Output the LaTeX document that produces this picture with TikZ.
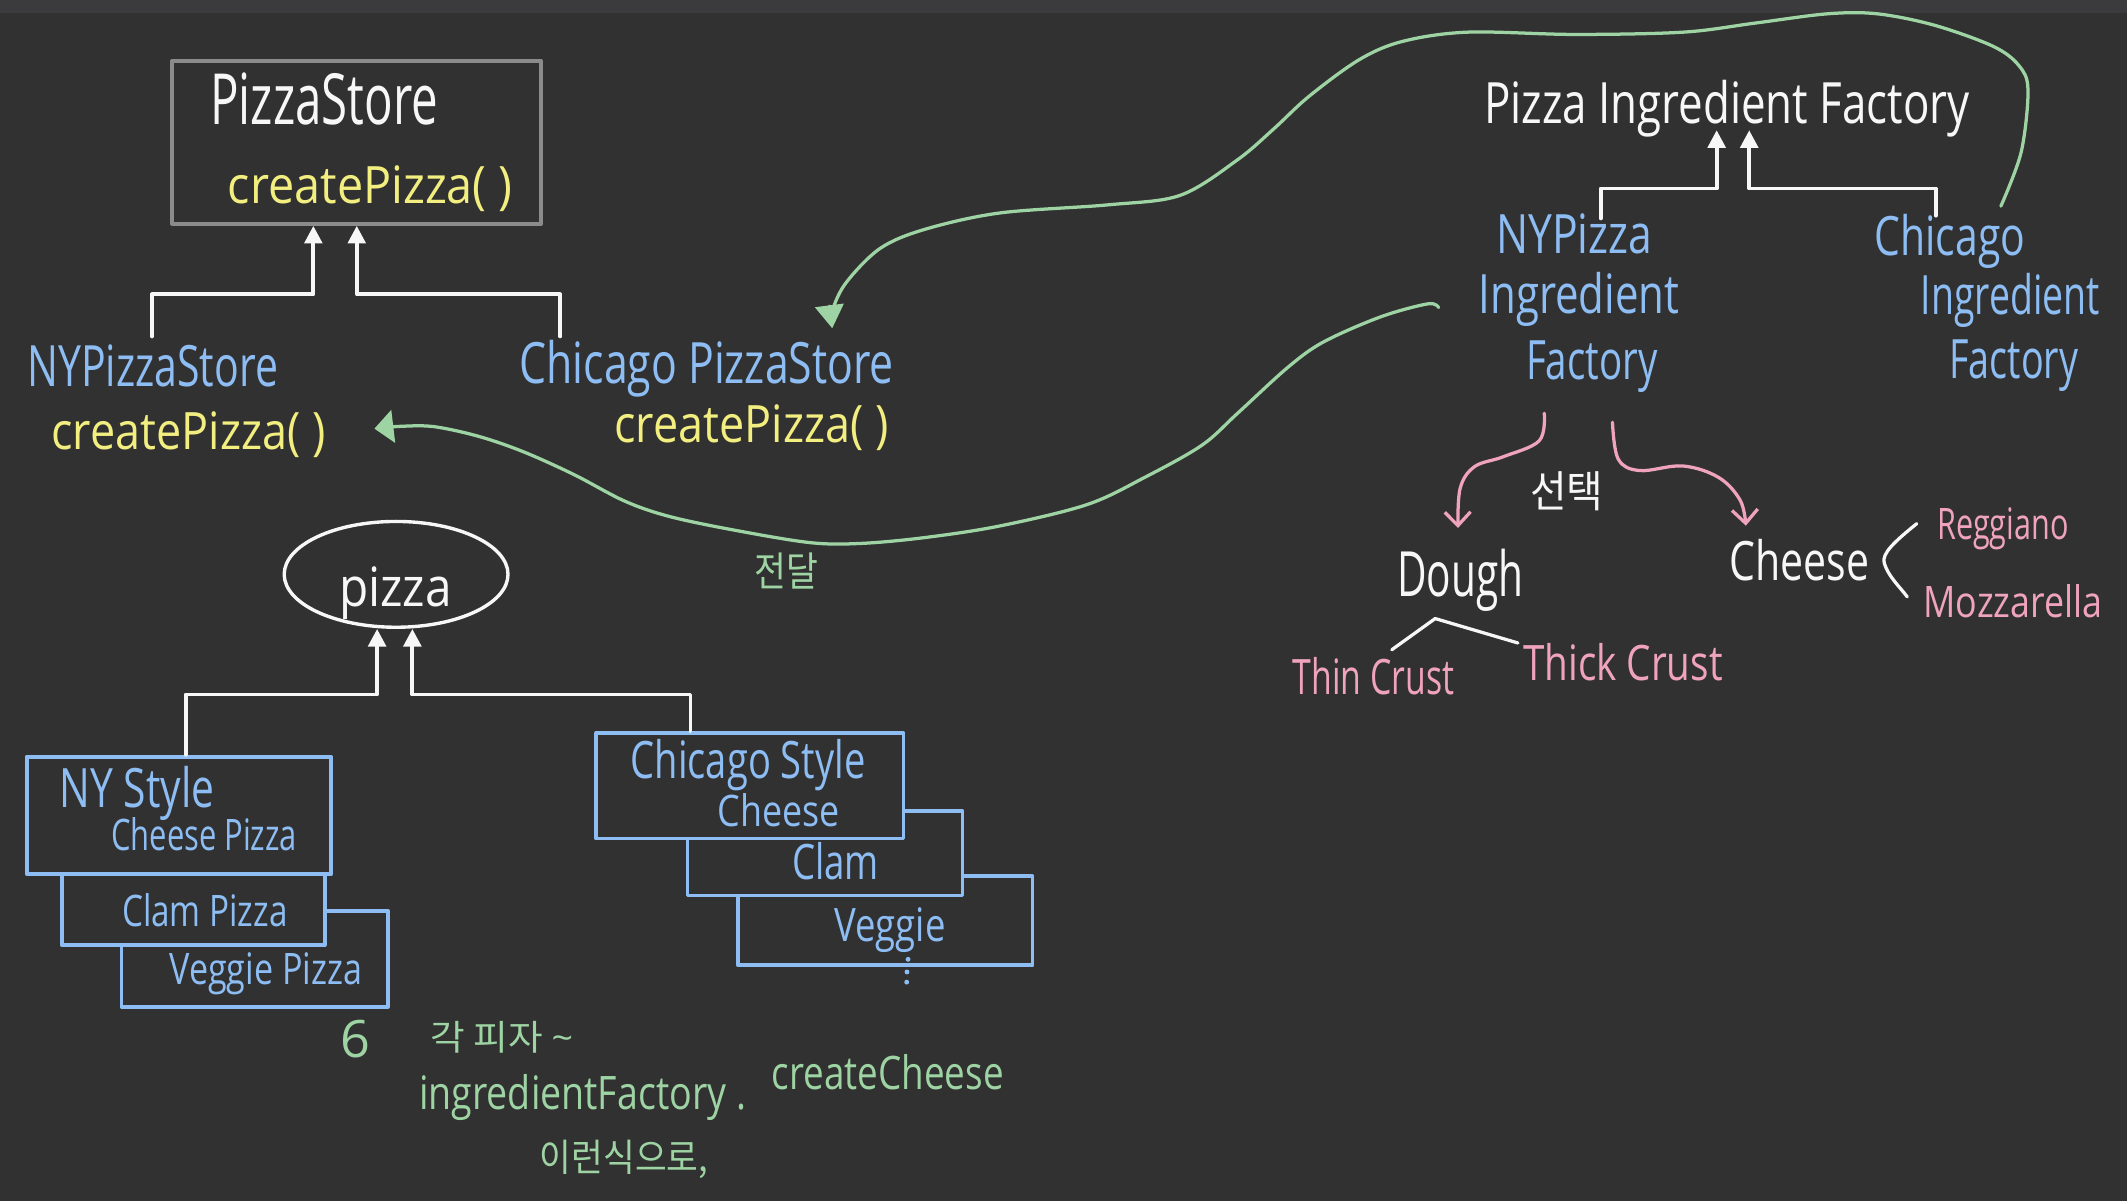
\documentclass[tikz,border=0pt]{standalone}
\usepackage{fontspec}
\setmainfont{Open Sans}
\newfontfamily\kr{Noto Sans CJK KR}
\usetikzlibrary{arrows.meta,shapes.geometric}
\definecolor{bg}{HTML}{313131}
\definecolor{band}{HTML}{3B3B3D}
\definecolor{boxgray}{HTML}{8B8B8B}
\definecolor{uyel}{HTML}{F2EE80}
\definecolor{ublue}{HTML}{8DBDF3}
\definecolor{ugreen}{HTML}{9ED4A3}
\definecolor{upink}{HTML}{EFA3BD}
\definecolor{uwhite}{HTML}{F7F7F7}
\newcommand{\fw}[2]{\resizebox{#1pt}{\height}{#2}}
\begin{document}
\begin{tikzpicture}[x=1pt,y=-1pt,line cap=round,line join=round,
  tx/.style={inner sep=0pt,anchor=base},
  fs/.style={font=\fontsize{#1}{#1}\selectfont},
  kfs/.style={font=\kr\fontsize{#1}{#1}\selectfont},
  inh/.style={draw=uwhite,line width=2.8pt,-{Triangle[length=13pt,width=13pt]}},
  ubox/.style={draw=ublue,line width=2.8pt,fill=bg,rectangle,inner sep=0pt},
  gcur/.style={draw=ugreen,line width=2.4pt},
  pcur/.style={draw=upink,line width=2.4pt,-{Straight Barb[length=10pt,width=19pt]}},
  wline/.style={draw=uwhite,line width=2.4pt}]
% background
\fill[bg] (0,0) rectangle (1568,885);
\fill[band] (0,0) rectangle (1568,9.5);
\useasboundingbox (0,0) rectangle (1568,885);

% ---------- PizzaStore ----------
\node[draw=boxgray,line width=3pt,minimum width=272pt,minimum height=120pt,inner sep=0pt] (ps) at (263,105) {};
\node[tx,fs=52,uwhite] (pst) at (239,92) {\fw{168}{PizzaStore}};
\node[tx,fs=38,uyel] (cp1) at (273,150) {\fw{210}{createPizza( )}};

\node[tx,fs=42,ublue] (nyps) at (112.5,285) {\fw{185}{NYPizzaStore}};
\node[tx,fs=38,uyel] (cp2) at (139,331) {\fw{202}{createPizza( )}};
\node[tx,fs=42,ublue] (chps) at (521,283) {\fw{276}{Chicago PizzaStore}};
\node[tx,fs=38,uyel] (cp3) at (554,326) {\fw{202}{createPizza( )}};

\coordinate (nypsTop) at (112,248);
\coordinate (chpsTop) at (413,248);
\draw[inh] (nypsTop) -- ++(0,-31) -| ([xshift=-32pt]ps.south);
\draw[inh] (chpsTop) -- ++(0,-31) -| (ps.south);

% ---------- Ingredient factory ----------
\node[tx,fs=42,uwhite] (pif) at (1273,91) {\fw{358}{Pizza Ingredient Factory}};
\node[tx,fs=40,ublue] (nyp) at (1160.5,187) {\fw{115}{NYPizza}};
\node[tx,fs=40,ublue] (nyi) at (1164,231) {\fw{148}{Ingredient}};
\node[tx,fs=40,ublue] (nyf) at (1173.5,280) {\fw{97}{Factory}};
\node[tx,fs=40,ublue] (chi1) at (1437.5,188) {\fw{111}{Chicago}};
\node[tx,fs=40,ublue] (chi2) at (1482,232) {\fw{132}{Ingredient}};
\node[tx,fs=40,ublue] (chi3) at (1484.5,279) {\fw{95}{Factory}};

\coordinate (nypTop) at (1180,161);
\coordinate (chiTop) at (1427,159);
\coordinate (pifL) at (1265.5,96);
\coordinate (pifR) at (1289.5,96);
\draw[inh] (nypTop) -- ++(0,-22) -| (pifL);
\draw[inh] (chiTop) -- ++(0,-20) -| (pifR);

\node[kfs=32,uwhite,inner sep=0pt] (sel) at (1155,362) {\fw{54}{선택}};
\node[tx,fs=46,uwhite] (dough) at (1076.5,440) {\fw{93}{Dough}};
\node[tx,fs=40,uwhite] (cheese) at (1326.5,428) {\fw{103}{Cheese}};
\node[tx,fs=32,upink] (reg) at (1476.5,398) {\fw{97}{Reggiano}};
\node[tx,fs=32,upink] (moz) at (1484,455) {\fw{132}{Mozzarella}};
\node[tx,fs=36,upink] (thin) at (1012.5,512) {\fw{119}{Thin Crust}};
\node[tx,fs=36,upink] (thick) at (1196.5,502) {\fw{147}{Thick Crust}};

% pink arrows
\coordinate (pkL) at (1138.4,304.6);
\coordinate (pkLt) at (1074.8,389.2);
\coordinate (pkR) at (1188.7,311.3);
\coordinate (pkRt) at (1287,387.5);
\draw[pcur] plot[smooth,tension=0.6] coordinates {(pkL) (1134.7,324.9) (1108.2,336.7) (1087,344) (1076.4,360) (pkLt)};
\draw[pcur] plot[smooth,tension=0.6] coordinates {(pkR) (1192.9,338.4) (1208.8,346.9) (1240.5,343.5) (1267,352) (1282.9,368.9) (pkRt)};

% dough branches, cheese bracket
\coordinate (dJ) at (1058,456);
\coordinate (dL) at (1026,479);
\coordinate (dR) at (1119,474);
\draw[wline] (dL) -- (dJ) -- (dR);
\coordinate (cA) at (1413,386);
\coordinate (cB) at (1406,440);
\draw[wline] (cA) .. controls (1397,399) and (1387,408) .. (1389,415) .. controls (1392,425) and (1400,432) .. (cB);

% ---------- green curves ----------
\coordinate (g1s) at (1475,152);
\coordinate (g1e) at (613.5,242);
\draw[gcur,-{Triangle[length=17pt,width=21pt]}] plot[smooth,tension=0.55] coordinates {(g1s) (1490,112) (1495,66) (1488,48) (1469,34) (1426,18.6) (1384,10.2) (1347,10.2) (1294,17) (1241,23.7) (1161,25.4) (1082,23.7) (1034,30.5) (1002,44) (965,71) (939,95) (912,118) (870,144) (817,151) (737,157) (682,169) (649,183) (624,208) (614,228) (g1e)};

\coordinate (g2s) at (1060.5,226.7);
\coordinate (g2e) at (276,316);
\draw[gcur,-{Triangle[length=14pt,width=24pt]}] plot[smooth,tension=0.55] coordinates {(g2s) (1052.6,224) (1018,233.5) (975.8,252) (949.5,270.7) (912.4,304.6) (885.9,328.3) (843.7,352) (801.3,372) (737.2,387.7) (681.7,396.3) (634.7,400.6) (597,400) (540.7,390.7) (493.7,380.8) (460.7,369.5) (423,349.8) (385.5,332.9) (352.6,321.6) (319.7,314.5) (295,314.3) (g2e)};
\node[kfs=30,ugreen,inner sep=0pt] (jd) at (580,421) {\fw{47}{전달}};

% ---------- Pizza hierarchy ----------
\node[draw=uwhite,line width=2.5pt,ellipse,minimum width=165pt,minimum height=78pt,inner sep=0pt] (pz) at (292,423.4) {};
\node[tx,fs=40,uwhite] (pzt) at (291.5,447) {\fw{83}{pizza}};

\node[ubox,minimum width=196.5pt,minimum height=70.7pt] (nyv) at (187.75,706.75) {};
\node[ubox,minimum width=193.9pt,minimum height=52.3pt] (nyc) at (142.45,670.55) {};
\node[ubox,minimum width=224.4pt,minimum height=86.6pt] (nys) at (131.9,601.1) {};
\node[ubox,minimum width=217.2pt,minimum height=65.5pt] (chv) at (652.6,678.75) {};
\node[ubox,minimum width=202.7pt,minimum height=62.2pt] (chc) at (608.15,629.1) {};
\node[ubox,minimum width=226.4pt,minimum height=77.7pt] (chs) at (552.8,579.25) {};

\node[tx,fs=40,ublue] at (101,595) {\fw{114}{NY Style}};
\node[tx,fs=32,ublue] at (150.5,627) {\fw{137}{Cheese Pizza}};
\node[tx,fs=32,ublue] at (151,683) {\fw{122}{Clam Pizza}};
\node[tx,fs=32,ublue] at (196,726) {\fw{142}{Veggie Pizza}};
\node[tx,fs=38,ublue] at (551.5,574) {\fw{173}{Chicago Style}};
\node[tx,fs=32,ublue] at (574,609) {\fw{90}{Cheese}};
\node[tx,fs=36,ublue] at (616,648) {\fw{64}{Clam}};
\node[tx,fs=34,ublue] at (656,694) {\fw{82}{Veggie}};
\fill[ublue] (669.4,707.2) circle (1.8pt) (668.6,716.5) circle (1.8pt) (668.4,724) circle (1.8pt);

\draw[inh] ([xshift=5pt]nys.north) -- ++(0,-44.5) -| ([xshift=-14pt]pz.south);
\draw[inh] ([xshift=-43.8pt]chs.north) -- ++(0,-27) -| ([xshift=12pt]pz.south);

% ---------- notes ----------
\node[fs=38,ugreen,inner sep=0pt] at (262,766) {\fw{22}{6}};
\node[kfs=26,ugreen,inner sep=0pt] at (370,765) {\fw{105}{각 피자 {\rmfamily\textasciitilde}}};
\node[tx,fs=34,ugreen] at (429.5,818) {\fw{241}{ingredientFactory .}};
\node[tx,fs=34,ugreen] at (654.5,803) {\fw{171}{createCheese}};
\node[kfs=28,ugreen,inner sep=0pt] at (460,855) {\fw{124}{이런식으로,}};
\end{tikzpicture}
\end{document}
